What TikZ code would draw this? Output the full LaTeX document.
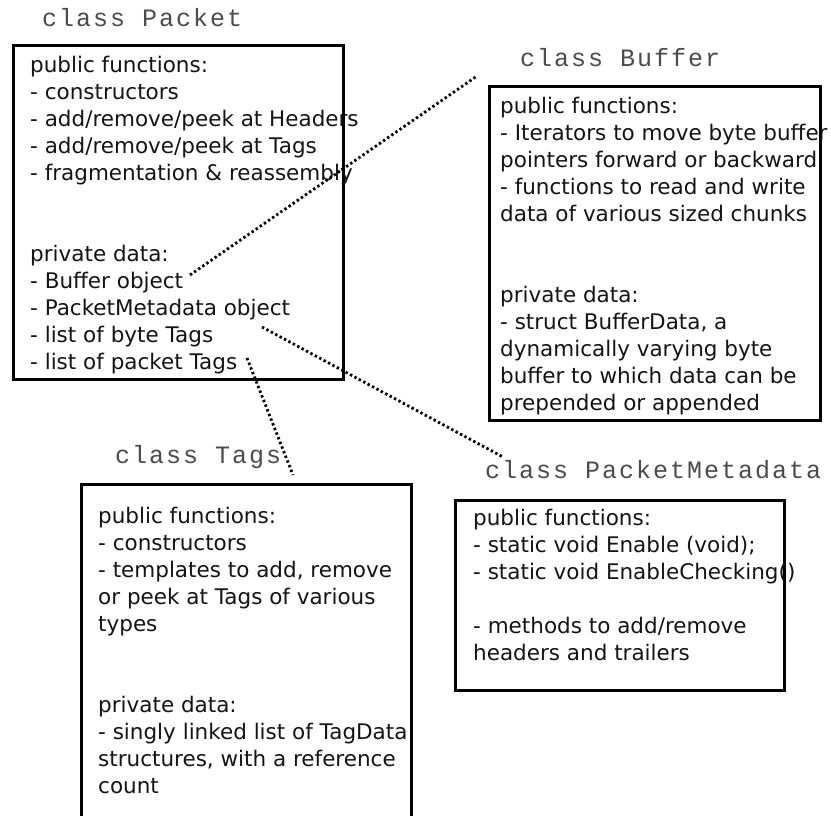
\documentclass[tikz,border=0pt]{standalone}
\usepackage{fontspec}
\newfontfamily\bodyfont{DejaVu Sans}
\newfontfamily\titlefont[LetterSpace=8]{Liberation Mono}
\definecolor{titlegray}{gray}{0.3}
\definecolor{textblack}{gray}{0.08}
\tikzset{
  classbox/.style={draw=black, line width=3pt, rectangle, inner sep=0pt, anchor=north west},
  classtitle/.style={anchor=base west, inner sep=0pt, text=titlegray, font=\titlefont\fontsize{25}{29}\selectfont},
  classtext/.style={anchor=base west, inner sep=0pt, text=textblack, font=\bodyfont\fontsize{21.5}{27}\selectfont},
  link/.style={draw=black, line width=2.8pt, dash pattern=on 2.4pt off 2.6pt}
}
\newcommand{\linesof}[1]{\begin{tabular}[t]{@{}l@{}}#1\end{tabular}}
\begin{document}
\begin{tikzpicture}[x=1pt,y=-1pt]
\useasboundingbox (0,0) rectangle (831,815);
\clip (0,0) rectangle (831,815);
\fill[white] (0,0) rectangle (831,815);

% boxes
\node[classbox, minimum width=330pt, minimum height=334pt] (packetbox) at (12,44) {};
\node[classbox, minimum width=331pt, minimum height=334pt] (bufferbox) at (488,85) {};
\node[classbox, minimum width=330pt, minimum height=360pt] (tagsbox) at (80,483) {};
\node[classbox, minimum width=329pt, minimum height=190pt] (metabox) at (454,499) {};

% titles
\node[classtitle] (packettitle) at (42,26) {class Packet};
\node[classtitle] (buffertitle) at (520,66) {class Buffer};
\node[classtitle] (tagstitle) at (115,463) {class Tags};
\node[classtitle] (metatitle) at (485,478) {class PacketMetadata};

% texts
\node[classtext] (packettext) at (30,72) {\linesof{%
public functions:\\
- constructors\\
- add/remove/peek at Headers\\
- add/remove/peek at Tags\\
- fragmentation \& reassembly\\
\\
\\
private data:\\
- Buffer object\\
- PacketMetadata object\\
- list of byte Tags\\
- list of packet Tags}};

\node[classtext] (buffertext) at (500,113) {\linesof{%
public functions:\\
- Iterators to move byte buffer\\
pointers forward or backward\\
- functions to read and write\\
data of various sized chunks\\
\\
\\
private data:\\
- struct BufferData, a\\
dynamically varying byte\\
buffer to which data can be\\
prepended or appended}};

\node[classtext] (tagstext) at (98,523) {\linesof{%
public functions:\\
- constructors\\
- templates to add, remove\\
or peek at Tags of various\\
types\\
\\
\\
private data:\\
- singly linked list of TagData\\
structures, with a reference\\
count}};

\node[classtext] (metatext) at (473,525) {\linesof{%
public functions:\\
- static void Enable (void);\\
- static void EnableChecking()\\
\\
- methods to add/remove\\
headers and trailers}};

% connector end points
\coordinate (bufobj) at (190,275);
\coordinate (bufend) at (477,76);
\coordinate (metaobj) at (262,327);
\coordinate (metaend) at (503,457);
\coordinate (tagsobj) at (247,358);
\coordinate (tagsend) at (293,475);

\draw[link] (bufobj) -- (bufend);
\draw[link] (metaobj) -- (metaend);
\draw[link] (tagsobj) -- (tagsend);
\end{tikzpicture}
\end{document}
